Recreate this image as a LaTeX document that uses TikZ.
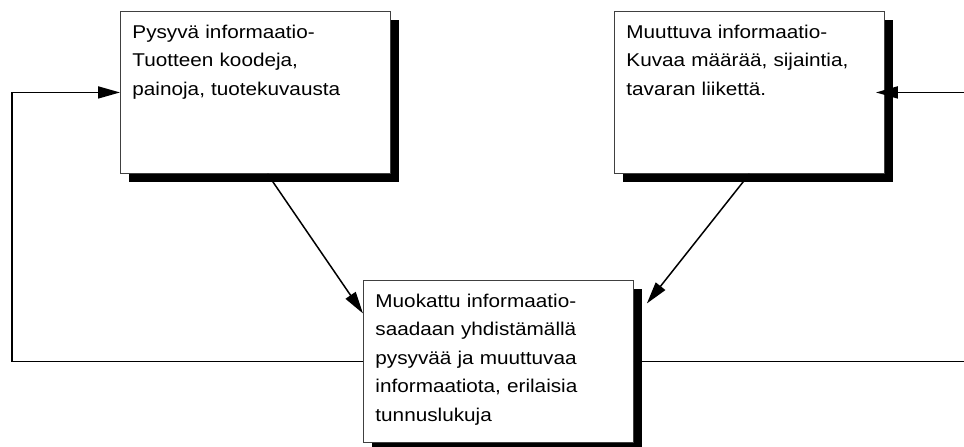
\documentclass[tikz,border=0pt]{standalone}
\usepackage{fontspec}
\setmainfont{Liberation Sans}[FakeStretch=1.12]
\usetikzlibrary{arrows.meta,shadows}

\tikzset{
  infobox/.style={draw=black!75, line width=0.9pt, fill=white, anchor=north west,
    text width=246pt, inner xsep=12pt, inner ysep=14pt, text height=13pt, text depth=121pt,
    align=left, font=\fontsize{18.5}{28.5}\selectfont,
    drop shadow={shadow xshift=9pt, shadow yshift=-9pt, fill=black, opacity=1}},
  flow/.style={line width=1.8pt, ->}
}

\begin{document}
\begin{tikzpicture}[x=1pt, y=-1pt, >={Triangle[length=22pt,width=12pt]}]
  \useasboundingbox (0,0) rectangle (964,447);

  % Laatikot
  \node[infobox] (pys) at (120,11) {Pysyvä informaatio-\\Tuotteen koodeja,\\painoja, tuotekuvausta};
  \node[infobox] (muu) at (614,11) {Muuttuva informaatio-\\Kuvaa määrää, sijaintia,\\tavaran liikettä.};
  \node[infobox] (mok) at (363,280) {Muokattu informaatio-\\saadaan yhdistämällä\\pysyvää ja muuttuvaa\\informaatiota, erilaisia\\tunnuslukuja};

  % Reunat
  \coordinate (lft) at (12,200);
  \coordinate (rgt) at (964,200);

  % Yhteydet
  \draw[flow, line width=1.5pt] ([xshift=12pt]pys.south) -- ([yshift=48pt]mok.west);
  \draw[flow, line width=1.5pt] (muu.south) -- ([xshift=13pt,yshift=58pt]mok.east);
  \draw[flow] (mok.west) -| (lft) |- (pys.west);
  \draw[line width=1.8pt] (mok.east) -- (mok.east -| rgt);
  \draw[flow, shorten >=-9pt] (rgt |- muu.east) -- (muu.east);
\end{tikzpicture}
\end{document}
